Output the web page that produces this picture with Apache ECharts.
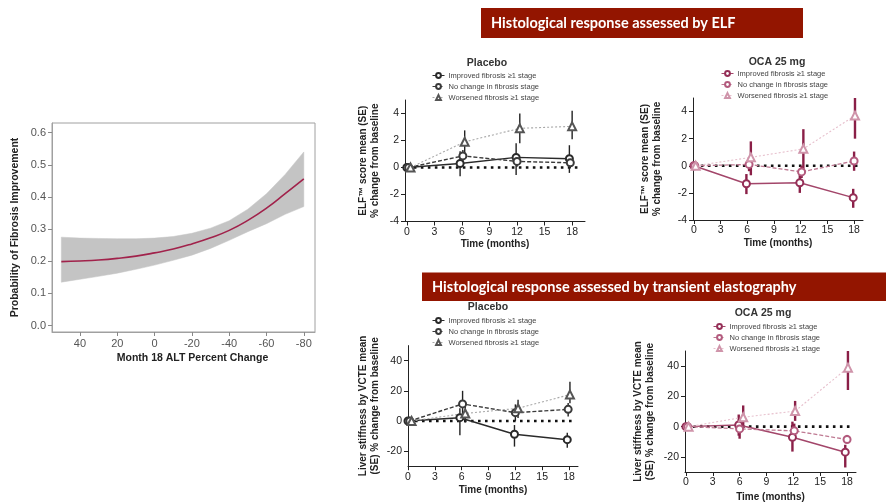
<!DOCTYPE html>
<html><head><meta charset="utf-8">
<script src="https://cdn.jsdelivr.net/npm/echarts@6/dist/echarts.min.js"></script>
<style>html,body{margin:0;padding:0;background:#fff}#c{width:887px;height:504px}</style>
</head><body><div id="c"></div>
<script>
// ---------- Left panel: probability of fibrosis improvement ----------
const altChange = [50,40,30,20,10,0,-10,-20,-30,-40,-50,-60,-70,-80];
const probFit   = [0.199,0.201,0.204,0.209,0.216,0.226,0.238,0.254,0.273,0.296,0.327,0.365,0.410,0.456];
const probLower = [0.135,0.144,0.153,0.163,0.175,0.188,0.203,0.219,0.240,0.265,0.292,0.317,0.346,0.370];
const probUpper = [0.275,0.272,0.271,0.270,0.270,0.272,0.277,0.287,0.303,0.326,0.362,0.410,0.470,0.540];
const altTicks  = [40,20,0,-20,-40,-60,-80];
const probTicks = [0,0.1,0.2,0.3,0.4,0.5,0.6];

// ---------- Right panels ----------
const monthTicks = [0,3,6,9,12,15,18];
const elfTicks = [-4,-2,0,2,4];
const vcteTicks = [-20,0,20,40];
const groupNames = ['Improved fibrosis \u22651 stage','No change in fibrosis stage','Worsened fibrosis \u22651 stage'];

// ELF – Placebo
const elfPboImpX = [0,5.8,11.9,17.7], elfPboImp = [0,0.30,0.75,0.65], elfPboImpLo = [0,-0.65,-0.55,-0.40], elfPboImpHi = [0,1.20,1.80,1.65];
const elfPboNcX  = [0.2,6.1,12.0,17.8], elfPboNc = [0,0.86,0.45,0.35], elfPboNcLo = [0,0.40,0.05,-0.05], elfPboNcHi = [0,1.30,0.90,0.75];
const elfPboWoX  = [0.4,6.3,12.3,18.0], elfPboWo = [0,1.90,2.90,3.05], elfPboWoLo = [0,1.05,1.80,2.10], elfPboWoHi = [0,2.75,4.00,4.20];
// ELF – OCA 25 mg
const elfOcaImpX = [0,5.9,11.9,17.9], elfOcaImp = [0,-1.33,-1.25,-2.35], elfOcaImpLo = [0,-2.09,-2.00,-3.10], elfOcaImpHi = [0,-0.61,-0.60,-1.70];
const elfOcaNcX  = [0.1,6.2,12.1,18.0], elfOcaNc = [0,0.10,-0.45,0.35], elfOcaNcLo = [0,-0.40,-0.90,-0.37], elfOcaNcHi = [0,0.40,0.00,1.05];
const elfOcaWoX  = [0.2,6.4,12.3,18.1], elfOcaWo = [0,0.62,1.25,3.70], elfOcaWoLo = [0,-0.70,-0.40,2.00], elfOcaWoHi = [0,1.80,2.70,5.00];
// VCTE – Placebo
const vctePboImpX = [0,5.8,11.9,17.8], vctePboImp = [0,2.2,-8.8,-12.4], vctePboImpLo = [0,-9.5,-17.0,-17.7], vctePboImpHi = [0,8.5,-2.7,-7.8];
const vctePboNcX  = [0.2,6.1,12.0,17.9], vctePboNc = [0,11.3,5.5,7.7], vctePboNcLo = [0,2.0,0.0,3.0], vctePboNcHi = [0,20.0,11.0,12.0];
const vctePboWoX  = [0.4,6.4,12.3,18.1], vctePboWo = [0,5.0,8.4,17.5], vctePboWoLo = [0,-1.0,2.0,11.7], vctePboWoHi = [0,11.0,14.0,26.0];
// VCTE – OCA 25 mg
const vcteOcaImpX = [0,5.9,11.9,17.8], vcteOcaImp = [0,1.1,-7.0,-16.9], vcteOcaImpLo = [0,-6.0,-16.5,-27.0], vcteOcaImpHi = [0,8.0,3.3,-12.0];
const vcteOcaNcX  = [0.2,6.0,12.1,18.0], vcteOcaNc = [0,-1.5,-2.8,-8.5], vcteOcaNcLo = [0,-8.0,-8.0,-11.0], vcteOcaNcHi = [0,5.0,2.0,-5.5];
const vcteOcaWoX  = [0.3,6.4,12.2,18.1], vcteOcaWo = [0,6.2,10.3,39.0], vcteOcaWoLo = [0,-1.0,3.8,24.2], vcteOcaWoHi = [0,14.0,17.0,50.0];

const FONT = 'Liberation Sans, Arial, sans-serif';
const chart = echarts.init(document.getElementById('c'));

function pairs(xs, ys){ return xs.map((x,i)=>[x, ys[i]]); }
function errSeries(gi, xs, lo, hi, color, width){
  return {type:'custom', xAxisIndex:gi, yAxisIndex:gi, z:2, silent:true, clip:false,
    data: xs.map((x,i)=>[x, lo[i], hi[i]]), encode:{x:0, y:[1,2]},
    renderItem(params, api){
      const a = api.coord([api.value(0), api.value(1)]);
      const b = api.coord([api.value(0), api.value(2)]);
      return {type:'line', shape:{x1:a[0],y1:a[1],x2:b[0],y2:b[1]}, style:{stroke:color, lineWidth:width}};
    }};
}
function lineSeries(gi, name, xs, ys, st){
  return {type:'line', name, xAxisIndex:gi, yAxisIndex:gi, z:3, data: pairs(xs, ys),
    symbol: st.symbol, symbolSize: st.size, showSymbol:true, showAllSymbol:true,
    lineStyle:{color:st.line, width:st.width, type:st.type},
    itemStyle:{color:st.marker, borderColor:st.marker, borderWidth:1.4}};
}
function refLine(gi, x0, x1){
  return {type:'line', xAxisIndex:gi, yAxisIndex:gi, z:1, silent:true, symbol:'none',
    data:[[x0,0],[x1,0]], lineStyle:{color:'#111', width:2.6, type:[2.6,4.4]}};
}
const pboSt = [
  {symbol:'emptyCircle', size:7, line:'#2a2a2a', marker:'#2a2a2a', width:1.5, type:'solid'},
  {symbol:'emptyCircle', size:7, line:'#3a3a3a', marker:'#3a3a3a', width:1.4, type:[4,2]},
  {symbol:'emptyTriangle', size:8, line:'#a8a8a8', marker:'#555', width:1.1, type:[2,2]}
];
const ocaSt = [
  {symbol:'emptyCircle', size:7, line:'#a3466a', marker:'#952f57', width:1.5, type:'solid'},
  {symbol:'emptyCircle', size:7, line:'#bf7a93', marker:'#b35b7e', width:1.3, type:[4,2]},
  {symbol:'emptyTriangle', size:8, line:'#e7c0cd', marker:'#cf94aa', width:1.1, type:[2,2]}
];
function panel(gi, suffix, st, errColor, errWidth, xs, ys, los, his, refEnd){
  const out = [refLine(gi, 0, refEnd)];
  for (let k=0;k<3;k++){
    out.push(errSeries(gi, xs[k], los[k], his[k], errColor, errWidth));
    out.push(lineSeries(gi, groupNames[k]+suffix, xs[k], ys[k], st[k]));
  }
  return out;
}

const bandSeries = {
  type:'custom', xAxisIndex:0, yAxisIndex:0, z:1, silent:true, clip:true,
  data: altChange.map((x,i)=>[x, probLower[i], probUpper[i]]), encode:{x:0, y:[1,2]},
  renderItem(params, api){
    if (params.dataIndex !== 0) return null;
    const top = altChange.map((x,i)=>api.coord([x, probUpper[i]]));
    const bot = altChange.map((x,i)=>api.coord([x, probLower[i]])).reverse();
    return {type:'polygon', shape:{points: top.concat(bot)}, style:{fill:'#c4c4c4', stroke:'#c4c4c4', lineWidth:0.5}};
  }
};

const series = [
  bandSeries,
  {type:'line', xAxisIndex:0, yAxisIndex:0, smooth:true, symbol:'none', z:3,
   data: pairs(altChange, probFit), lineStyle:{color:'#a1224b', width:1.6}},
  ...panel(1, '', pboSt, '#222', 1.4,
    [elfPboImpX, elfPboNcX, elfPboWoX], [elfPboImp, elfPboNc, elfPboWo],
    [elfPboImpLo, elfPboNcLo, elfPboWoLo], [elfPboImpHi, elfPboNcHi, elfPboWoHi], 18.6),
  ...panel(2, ' ', ocaSt, '#8a1f47', 2.4,
    [elfOcaImpX, elfOcaNcX, elfOcaWoX], [elfOcaImp, elfOcaNc, elfOcaWo],
    [elfOcaImpLo, elfOcaNcLo, elfOcaWoLo], [elfOcaImpHi, elfOcaNcHi, elfOcaWoHi], 18.7),
  ...panel(3, '  ', pboSt, '#222', 1.4,
    [vctePboImpX, vctePboNcX, vctePboWoX], [vctePboImp, vctePboNc, vctePboWo],
    [vctePboImpLo, vctePboNcLo, vctePboWoLo], [vctePboImpHi, vctePboNcHi, vctePboWoHi], 18.4),
  ...panel(4, '   ', ocaSt, '#8a1f47', 2.4,
    [vcteOcaImpX, vcteOcaNcX, vcteOcaWoX], [vcteOcaImp, vcteOcaNc, vcteOcaWo],
    [vcteOcaImpLo, vcteOcaNcLo, vcteOcaWoLo], [vcteOcaImpHi, vcteOcaNcHi, vcteOcaWoHi], 18.6)
];

const grids = [
  {left:52, top:123, width:263, height:209, show:true, borderColor:'#a0a0a0', borderWidth:1},
  {left:405, top:100, width:180, height:121.5},
  {left:693, top:98, width:170, height:122},
  {left:408, top:345.6, width:170, height:120.6},
  {left:685, top:351, width:171, height:121}
];
const nameStyle = {fontFamily:FONT, fontWeight:'bold', fontSize:10, color:'#222', lineHeight:12};
function monthAxis(gi, min, max, gap){
  return {type:'value', gridIndex:gi, min, max, name:'Time (months)', nameLocation:'middle', nameGap:gap,
    nameTextStyle:nameStyle, splitLine:{show:false},
    axisLine:{show:true, onZero:false, lineStyle:{color:'#222', width:1}},
    axisTick:{show:true, length:4, lineStyle:{color:'#222'}, customValues:monthTicks},
    axisLabel:{fontFamily:FONT, fontSize:10.5, color:'#222', margin:5, customValues:monthTicks}};
}
function valAxis(gi, min, max, ticks, name, gap){
  return {type:'value', gridIndex:gi, min, max, name, nameLocation:'middle', nameGap:gap, nameRotate:90,
    nameTextStyle:nameStyle, splitLine:{show:false},
    axisLine:{show:true, onZero:false, lineStyle:{color:'#222', width:1}},
    axisTick:{show:true, length:4, lineStyle:{color:'#222'}, customValues:ticks},
    axisLabel:{fontFamily:FONT, fontSize:10.5, color:'#222', margin:6, customValues:ticks}};
}
const elfName = 'ELF\u2122 score mean (SE)\n% change from baseline';
const vcteName = 'Liver stiffness by VCTE mean\n(SE) % change from baseline';

const xAxes = [
  {type:'value', gridIndex:0, inverse:true, min:-86, max:55, name:'Month 18 ALT Percent Change',
   nameLocation:'middle', nameGap:21, nameTextStyle:{fontFamily:FONT, fontWeight:'bold', fontSize:10.5, color:'#222', padding:[0,0,0,18]},
   splitLine:{show:false}, axisLine:{show:true, onZero:false, lineStyle:{color:'#a0a0a0'}},
   axisTick:{show:true, length:4, lineStyle:{color:'#888'}, customValues:altTicks},
   axisLabel:{fontFamily:FONT, fontSize:11, color:'#555', margin:6, customValues:altTicks}},
  monthAxis(1, -0.2, 19.4, 15),
  monthAxis(2, -0.1, 19, 17),
  monthAxis(3, 0, 19, 18),
  monthAxis(4, -0.1, 19, 19)
];
const yAxes = [
  {type:'value', gridIndex:0, min:-0.02, max:0.63, name:'Probability of Fibrosis Improvement',
   nameLocation:'middle', nameGap:31, nameRotate:90,
   nameTextStyle:{fontFamily:FONT, fontWeight:'bold', fontSize:10.5, color:'#222'},
   splitLine:{show:false}, axisLine:{show:true, onZero:false, lineStyle:{color:'#a0a0a0'}},
   axisTick:{show:true, length:4, lineStyle:{color:'#888'}, customValues:probTicks},
   axisLabel:{fontFamily:FONT, fontSize:11, color:'#555', margin:6, customValues:probTicks,
     formatter:v=>Number(v).toFixed(1)}},
  valAxis(1, -4, 5, elfTicks, elfName, 24),
  valAxis(2, -4, 5, elfTicks, elfName, 30),
  valAxis(3, -30, 50, vcteTicks, vcteName, 27),
  valAxis(4, -30, 50, vcteTicks, vcteName, 29)
];
function legend(suffix, left, top){
  return {data: groupNames.map(n=>n+suffix), left, top, orient:'vertical', itemWidth:12, itemHeight:6,
    itemGap:3, selectedMode:false, padding:0,
    itemStyle:{borderWidth:1}, lineStyle:{width:1},
    textStyle:{fontFamily:FONT, fontSize:7.5, color:'#444', padding:[0,0,0,-1]},
    formatter:n=>n.replace(/\s+$/,'')};
}
function titleText(text, x, y){
  return {type:'text', x, y, style:{text, fill:'#333', font:'bold 10.5px '+FONT, textAlign:'center', textVerticalAlign:'middle'}};
}
const graphic = [
  {type:'rect', shape:{x:481, y:8, width:322, height:30}, style:{fill:'#931500'}},
  {type:'text', x:491, y:23, style:{text:'Histological response assessed by ELF', fill:'#fff',
    font:'bold 14.5px Lato, sans-serif', textVerticalAlign:'middle'}},
  {type:'rect', shape:{x:422, y:272.5, width:464, height:28.5}, style:{fill:'#931500'}},
  {type:'text', x:432, y:287, style:{text:'Histological response assessed by transient elastography', fill:'#fff',
    font:'bold 14.5px Lato, sans-serif', textVerticalAlign:'middle'}},
  titleText('Placebo', 487, 63),
  titleText('OCA 25 mg', 777, 62),
  titleText('Placebo', 488, 307),
  titleText('OCA 25 mg', 763, 313)
];

chart.setOption({
  animation:false,
  backgroundColor:'#fff',
  grid: grids, xAxis: xAxes, yAxis: yAxes, series,
  legend:[legend('',432,71.5), legend(' ',721,69.5), legend('  ',432,316.5), legend('   ',713,322.5)],
  graphic
});
</script></body></html>
